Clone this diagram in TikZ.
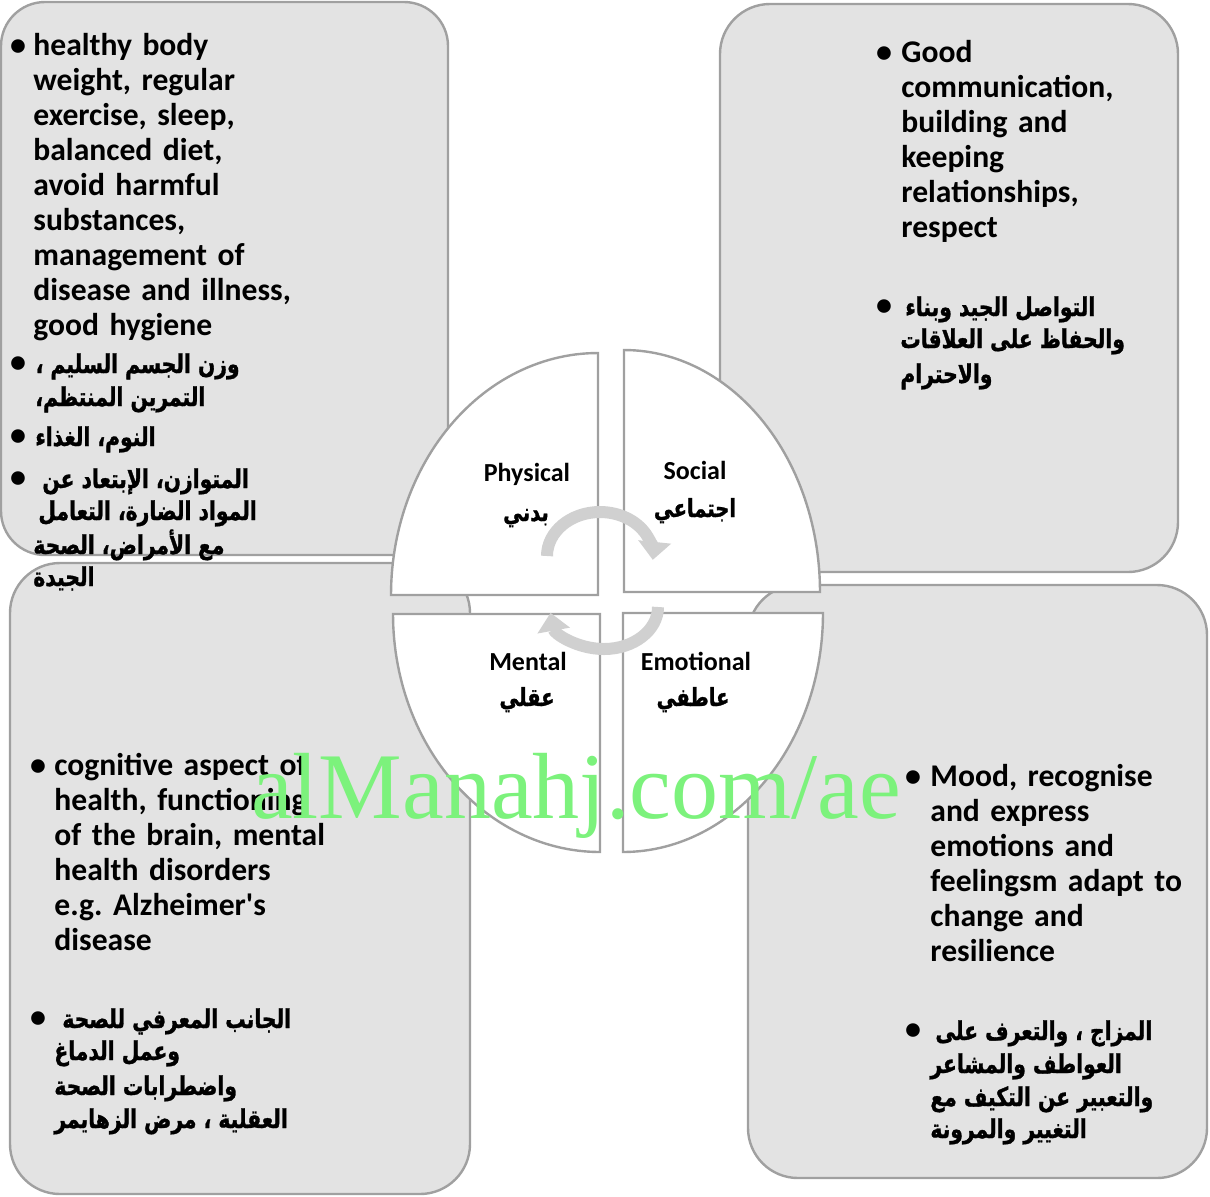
\documentclass[tikz,border=0pt]{standalone}
\usepackage{fontspec}
\setmainfont{Carlito}
\newfontfamily\arabicfont[Script=Arabic, FakeStretch=0.78, FakeBold=1.2]{DejaVu Sans Bold}
\newfontfamily\markfont{Liberation Serif}
\TeXXeTstate=1
\frenchspacing
\usetikzlibrary{arrows.meta}
\definecolor{boxgray}{RGB}{227,227,227}
\definecolor{edgegray}{RGB}{160,160,160}
\definecolor{arrowgray}{RGB}{208,208,208}
\definecolor{markgreen}{RGB}{124,242,124}
\newcommand{\artxt}[1]{{\arabicfont\beginR #1\endR}}
\tikzset{
  box/.style={draw=edgegray, fill=boxgray, line width=1.2pt, rounded corners=25pt},
  quad/.style={draw=edgegray, fill=white, line width=1.2pt},
  cyc/.style={draw=arrowgray, line width=6pt, -{Triangle[width=16pt,length=9pt]}},
  entxt/.style={font=\fontsize{15.8}{17.5}\selectfont\bfseries, text width=200pt, align=left, inner sep=0pt, anchor=base west},
  arline/.style={font=\fontsize{13}{17.5}\selectfont, inner sep=0pt, anchor=base west},
  bul/.style={font=\fontsize{16}{17.5}\selectfont\bfseries, inner sep=0pt, anchor=base},
  lbl/.style={font=\fontsize{13}{15}\selectfont\bfseries, inner sep=0pt, anchor=base},
  arlbl/.style={font=\fontsize{12.5}{15}\selectfont, inner sep=0pt, anchor=base}
}
\begin{document}
\begin{tikzpicture}[x=0.5pt, y=-0.5pt]
  \fill[white] (0,0) rectangle (1210,1196);
  \useasboundingbox (0,0) rectangle (1210,1196);

  \draw[box, rounded corners=22pt] (1,2) rectangle (448,555);
  \draw[box] (720,4) rectangle (1178,572);
  \draw[box] (10,563) rectangle (470,1194);
  \draw[box] (748,585) rectangle (1207,1178);

  \draw[quad] (598,595) -- plot[domain=180:270, samples=60] ({598+207*cos(\x)},{595+242*sin(\x)}) -- cycle;
  \draw[quad] (624,592) -- plot[domain=270:360, samples=60] ({624+196*cos(\x)},{592+242*sin(\x)}) -- cycle;
  \draw[quad] (600,614) -- plot[domain=90:180, samples=60] ({600+207*cos(\x)},{614+238*sin(\x)}) -- cycle;
  \draw[quad] (623,613) -- plot[domain=0:90, samples=60] ({623+200*cos(\x)},{613+239*sin(\x)}) -- cycle;

  \node[lbl] (phys) at (527,481) {Physical};
  \node[arlbl] (physar) at (526,521) {\artxt{بدني}};
  \node[lbl] (soc) at (695,479) {Social};
  \node[arlbl] (socar) at (695,517) {\artxt{اجتماعي}};
  \node[lbl] (ment) at (528,670) {Mental};
  \node[arlbl] (mentar) at (527,706) {\artxt{عقلي}};
  \node[lbl] (emo) at (696,670) {Emotional};
  \node[arlbl] (emoar) at (693,706) {\artxt{عاطفي}};

  \draw[cyc] (547,556) arc[start angle=180, end angle=-5, x radius=26.5pt, y radius=22pt];
  \draw[cyc] (658,607) arc[start angle=0, end angle=-172, x radius=27pt, y radius=21pt];

  \node[bul] (tlb1) at (18,55) {\textbullet};
  \node[entxt] (tlen) at (33,55) {healthy body\\weight, regular\\exercise, sleep,\\balanced diet,\\avoid harmful\\substances,\\management of\\disease and illness,\\good hygiene};
  \node[bul] (tlb2) at (18,372) {\textbullet};
  \node[arline, anchor=base east] (tla1) at (240,373) {\artxt{وزن الجسم السليم ،}};
  \node[arline] (tla2) at (35,406) {\artxt{التمرين المنتظم،}};
  \node[bul] (tlb3) at (18,445) {\textbullet};
  \node[arline] (tla3) at (35,446) {\artxt{النوم، الغذاء}};
  \node[bul] (tlb4) at (18,487) {\textbullet};
  \node[arline] (tla4) at (42,488) {\artxt{المتوازن، الإبتعاد عن}};
  \node[arline] (tla5) at (38,520) {\artxt{المواد الضارة، التعامل}};
  \node[arline] (tla6) at (33,554) {\artxt{مع الأمراض، الصحة}};
  \node[arline] (tla7) at (33,586) {\artxt{الجيدة}};

  \node[bul] (trb1) at (884,62) {\textbullet};
  \node[entxt] (tren) at (901,62) {Good\\communication,\\building and\\keeping\\relationships,\\respect};
  \node[bul] (trb2) at (884,315) {\textbullet};
  \node[arline] (tra1) at (905,316) {\artxt{التواصل الجيد وبناء}};
  \node[arline] (tra2) at (900,348) {\artxt{والحفاظ على العلاقات}};
  \node[arline] (tra3) at (900,383) {\artxt{والاحترام}};

  \node[bul] (blb1) at (38,775) {\textbullet};
  \node[entxt] (blen) at (54,775) {cognitive aspect of\\health, functioning\\of the brain, mental\\health disorders\\e.g. Alzheimer\textquotesingle s\\disease};
  \node[bul] (blb2) at (38,1027) {\textbullet};
  \node[arline] (bla1) at (62,1028) {\artxt{الجانب المعرفي للصحة}};
  \node[arline] (bla2) at (54,1060) {\artxt{وعمل الدماغ}};
  \node[arline] (bla3) at (54,1095) {\artxt{واضطرابات الصحة}};
  \node[arline] (bla4) at (54,1128) {\artxt{العقلية ، مرض الزهايمر}};

  \node[bul] (brb1) at (913,786) {\textbullet};
  \node[entxt] (bren) at (930,786) {Mood, recognise\\and express\\emotions and\\feelingsm adapt to\\change and\\resilience};
  \node[bul] (brb2) at (913,1039) {\textbullet};
  \node[arline] (bra1) at (935,1040) {\artxt{المزاج ، والتعرف على}};
  \node[arline] (bra2) at (930,1073) {\artxt{العواطف والمشاعر}};
  \node[arline] (bra3) at (930,1106) {\artxt{والتعبير عن التكيف مع}};
  \node[arline] (bra4) at (930,1138) {\artxt{التغيير والمرونة}};

  \node[text=markgreen, font=\markfont\fontsize{47}{50}\selectfont, inner sep=0pt, anchor=base] (mark) at (576,818) {alManahj.com/ae};
\end{tikzpicture}
\end{document}
